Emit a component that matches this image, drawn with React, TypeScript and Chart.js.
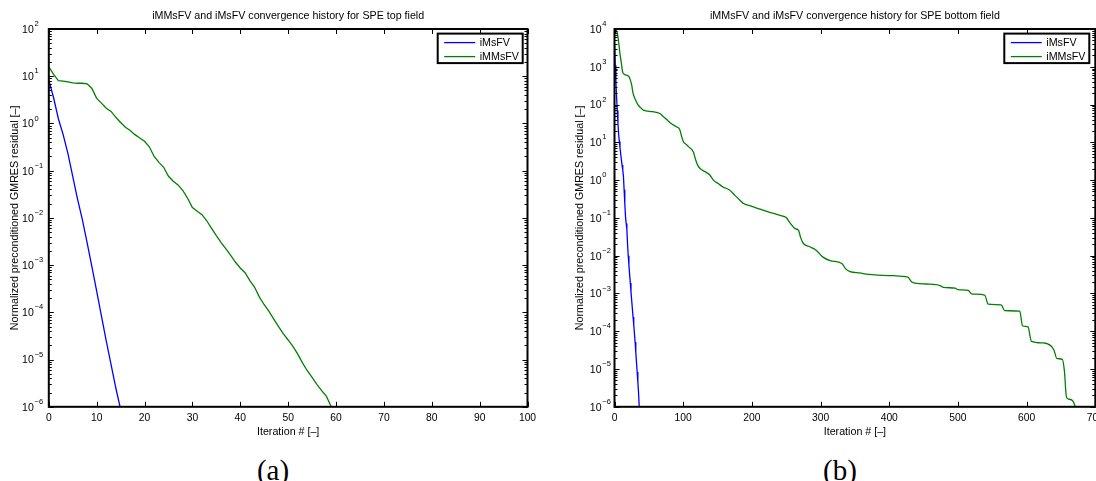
import React, { useEffect, useRef } from "react";
import { Chart, registerables } from "chart.js";

Chart.register(...registerables);

// ---------- SPE top field ----------
const topXTicks = [0, 10, 20, 30, 40, 50, 60, 70, 80, 90, 100];
// residual per GMRES iteration (iteration = index)
const topMsfvResidual = [
  8.3, 3.5, 1.26, 0.58, 0.23, 0.076, 0.025, 9.3e-3, 3.0e-3, 9.3e-4, 2.8e-4,
  8.3e-5, 2.5e-5, 7.9e-6, 2.5e-6, 8.9e-7,
];
const topMmsfvResidual = [
  15.8, 11.0, 8.1, 7.9, 7.6, 7.2, 7.1, 7.1, 6.9, 5.5, 3.4, 2.7, 2.1, 1.8, 1.35,
  1.05, 0.83, 0.71, 0.58, 0.49, 0.42, 0.32, 0.2, 0.15, 0.118, 0.076, 0.06, 0.05,
  0.038, 0.026, 0.0166, 0.0138, 0.0117, 8.7e-3, 6.0e-3, 4.2e-3, 3.0e-3, 2.2e-3,
  1.6e-3, 1.15e-3, 8.7e-4, 6.9e-4, 4.7e-4, 3.4e-4, 2.1e-4, 1.45e-4, 1.05e-4,
  7.2e-5, 5.0e-5, 3.5e-5, 2.6e-5, 1.9e-5, 1.3e-5, 8.5e-6, 5.8e-6, 4.2e-6, 3.0e-6,
  2.2e-6, 1.66e-6, 1.0e-6,
];

// ---------- SPE bottom field ----------
const bottomXTicks = [0, 100, 200, 300, 400, 500, 600, 700];
const bottomMsfvResidual = [
  4000, 1100, 400, 160, 70, 32, 16.6, 10.5, 7.2, 5.0, 3.5, 2.5, 1.86, 1.26, 0.56,
  0.24, 0.11, 0.071, 0.05, 0.02, 0.01, 5.6e-3, 3.2e-3, 1.9e-3, 1.1e-3, 6.6e-4,
  4.0e-4, 2.4e-4, 1.5e-4, 8.9e-5, 5.2e-5, 2.8e-5, 1.5e-5, 8.3e-6, 4.5e-6, 2.4e-6,
  1.0e-6,
];
// the iMMsFV history is stored at its break points (iteration, residual)
const bottomMmsfvIteration = [
  0, 3, 5, 8, 10, 12, 15, 21, 23, 25, 27, 30, 34, 38, 42, 55, 66, 70, 76, 83, 90,
  95, 97, 100, 104, 108, 115, 118, 121, 125, 132, 139, 144, 151, 158, 168, 175,
  183, 188, 197, 212, 226, 241, 250, 255, 263, 268, 271, 275, 285, 294, 303, 314,
  331, 337, 343, 357, 370, 406, 427, 433, 454, 474, 479, 496, 500, 515, 520, 539,
  544, 563, 568, 590, 594, 602, 607, 624, 636, 640, 644, 652, 655, 658, 661, 667,
  671,
];
const bottomMmsfvResidual = [
  10000, 9000, 6300, 2200, 1260, 710, 620, 550, 450, 330, 200, 140, 100, 83, 71,
  65, 58, 50, 40, 31, 26, 22, 16, 10.7, 8.9, 7.6, 5.5, 3.5, 2.5, 2.0, 1.66, 1.35,
  1.0, 0.81, 0.66, 0.54, 0.4, 0.29, 0.24, 0.21, 0.17, 0.14, 0.117, 0.102, 0.076,
  0.052, 0.047, 0.03, 0.021, 0.017, 0.0138, 9.3e-3, 7.4e-3, 6.2e-3, 4.4e-3,
  3.8e-3, 3.5e-3, 3.2e-3, 2.95e-3, 2.7e-3, 2.0e-3, 1.78e-3, 1.62e-3, 1.45e-3,
  1.38e-3, 1.26e-3, 1.2e-3, 9.8e-4, 9.1e-4, 5.2e-4, 5.0e-4, 3.5e-4, 3.4e-4,
  1.4e-4, 1.3e-4, 5.4e-5, 4.9e-5, 4.0e-5, 3.1e-5, 1.9e-5, 1.8e-5, 8.9e-6,
  1.8e-6, 1.6e-6, 1.45e-6, 1.0e-6,
];

const seriesNames = ["iMsFV", "iMMsFV"];
const seriesColors = ["#0000ff", "#008000"];

const xAxisTitle = "Iteration # [\u2013]";
const yAxisTitle = "Normalized preconditioned GMRES residual [\u2013]";

const SANS = '"Liberation Sans", Arial, Helvetica, sans-serif';
const font = (size: number) => `${size}px ${SANS}`;

type PanelSpec = {
  title: string;
  xMax: number;
  yMin: number;
  yMax: number;
  xTicks: number[];
  yLabelGap: number;
  legendInset: number;
};

const supDigits = (e: number) => (e < 0 ? "\u2212" + String(-e) : String(e));

// MATLAB-style box axes: inward ticks on all four sides, log minor ticks,
// tick labels, axis titles, title and a boxed legend in the upper right.
function matlabAxes(spec: PanelSpec) {
  return {
    id: "matlabAxes",
    afterDatasetsDraw(chart: any) {
      const { ctx, chartArea: a, scales } = chart;
      const xs = scales.x;
      const ys = scales.y;
      ctx.save();

      // ticks
      ctx.strokeStyle = "#000";
      ctx.lineWidth = 1;
      ctx.beginPath();
      for (const t of spec.xTicks) {
        const px = Math.round(xs.getPixelForValue(t)) + 0.5;
        ctx.moveTo(px, a.bottom);
        ctx.lineTo(px, a.bottom - 5);
        ctx.moveTo(px, a.top);
        ctx.lineTo(px, a.top + 5);
      }
      const minE = Math.round(Math.log10(spec.yMin));
      const maxE = Math.round(Math.log10(spec.yMax));
      for (let e = minE; e <= maxE; e++) {
        const py = Math.round(ys.getPixelForValue(Math.pow(10, e))) + 0.5;
        ctx.moveTo(a.left, py);
        ctx.lineTo(a.left + 5, py);
        ctx.moveTo(a.right, py);
        ctx.lineTo(a.right - 5, py);
        if (e < maxE) {
          for (let m = 2; m <= 9; m++) {
            const pm = Math.round(ys.getPixelForValue(m * Math.pow(10, e))) + 0.5;
            ctx.moveTo(a.left, pm);
            ctx.lineTo(a.left + 3, pm);
            ctx.moveTo(a.right, pm);
            ctx.lineTo(a.right - 3, pm);
          }
        }
      }
      ctx.stroke();

      // frame
      ctx.lineWidth = 2;
      ctx.strokeRect(a.left, a.top, a.right - a.left, a.bottom - a.top);

      ctx.fillStyle = "#000";

      // x tick labels
      ctx.font = font(10.3);
      ctx.textAlign = "center";
      ctx.textBaseline = "middle";
      for (const t of spec.xTicks) {
        ctx.fillText(String(t), xs.getPixelForValue(t), a.bottom + 11.5);
      }

      // y tick labels: 10 with a raised exponent
      for (let e = minE; e <= maxE; e++) {
        const py = ys.getPixelForValue(Math.pow(10, e));
        const xr = a.left - spec.yLabelGap;
        ctx.font = font(10.5);
        ctx.textAlign = "right";
        ctx.textBaseline = "middle";
        ctx.fillText("10", xr, py + 1);
        ctx.font = font(7.5);
        ctx.textAlign = "left";
        ctx.fillText(supDigits(e), xr + 0.8, py - 5);
      }

      // axis titles
      ctx.font = font(10.7);
      ctx.textAlign = "center";
      ctx.textBaseline = "middle";
      ctx.fillText(xAxisTitle, (a.left + a.right) / 2, a.bottom + 25);
      ctx.save();
      ctx.translate(a.left - 34, (a.top + a.bottom) / 2);
      ctx.rotate(-Math.PI / 2);
      ctx.fillText(yAxisTitle, 0, 0);
      ctx.restore();

      // title
      ctx.fillText(spec.title, (a.left + a.right) / 2, 15.7);

      // legend
      const bw = 85;
      const bh = 29.5;
      const bx = a.right - spec.legendInset - bw;
      const by = a.top + 4.6;
      ctx.fillStyle = "#fff";
      ctx.fillRect(bx, by, bw, bh);
      ctx.strokeStyle = "#000";
      ctx.lineWidth = 2;
      ctx.strokeRect(bx, by, bw, bh);
      chart.data.datasets.forEach((ds: any, i: number) => {
        const ly = by + 9 + i * 14;
        ctx.strokeStyle = ds.borderColor;
        ctx.lineWidth = 1.3;
        ctx.beginPath();
        ctx.moveTo(bx + 6.5, ly);
        ctx.lineTo(bx + 37.5, ly);
        ctx.stroke();
        ctx.fillStyle = "#000";
        ctx.font = font(10.7);
        ctx.textAlign = "left";
        ctx.textBaseline = "middle";
        ctx.fillText(ds.label, bx + 42, ly);
      });

      ctx.restore();
    },
  };
}

type PanelProps = {
  left: number;
  width: number;
  height: number;
  padding: { left: number; right: number; top: number; bottom: number };
  spec: PanelSpec;
  datasets: any[];
};

function ConvergencePanel({ left, width, height, padding, spec, datasets }: PanelProps) {
  const ref = useRef<HTMLCanvasElement>(null);
  useEffect(() => {
    if (!ref.current) return;
    const chart = new Chart(ref.current, {
      type: "line",
      data: { datasets },
      options: {
        responsive: false,
        animation: false,
        devicePixelRatio: 1,
        layout: { padding },
        parsing: false,
        scales: {
          x: { type: "linear", min: 0, max: spec.xMax, display: false },
          y: { type: "logarithmic", min: spec.yMin, max: spec.yMax, display: false },
        },
        elements: { point: { radius: 0 } },
        plugins: {
          legend: { display: false },
          title: { display: false },
          tooltip: { enabled: false },
        },
      },
      plugins: [matlabAxes(spec)],
    } as any);
    return () => chart.destroy();
  }, []);
  return (
    <canvas
      ref={ref}
      width={width}
      height={height}
      style={{ position: "absolute", left, top: 0, width, height }}
    />
  );
}

const perIteration = (values: number[]) => values.map((y, i) => ({ x: i, y }));

export default function App() {
  const topDatasets = [
    {
      label: seriesNames[0],
      data: perIteration(topMsfvResidual),
      borderColor: seriesColors[0],
      borderWidth: 1.3,
      tension: 0,
    },
    {
      label: seriesNames[1],
      data: perIteration(topMmsfvResidual),
      borderColor: seriesColors[1],
      borderWidth: 1.3,
      tension: 0,
    },
  ];
  const bottomDatasets = [
    {
      label: seriesNames[0],
      data: perIteration(bottomMsfvResidual),
      borderColor: seriesColors[0],
      borderWidth: 1.3,
      tension: 0,
    },
    {
      label: seriesNames[1],
      data: bottomMmsfvIteration.map((x, i) => ({ x, y: bottomMmsfvResidual[i] })),
      borderColor: seriesColors[1],
      borderWidth: 1.3,
      cubicInterpolationMode: "monotone",
    },
  ];

  const captionStyle: React.CSSProperties = {
    position: "absolute",
    top: 455.6,
    width: 100,
    textAlign: "center",
    fontFamily: '"Liberation Serif", "Times New Roman", serif',
    fontSize: 29,
    lineHeight: "29px",
    color: "#000",
  };

  return (
    <div
      style={{
        position: "fixed",
        left: 0,
        top: 0,
        width: 1096,
        height: 481,
        background: "#fff",
        overflow: "hidden",
      }}
    >
      <ConvergencePanel
        left={0}
        width={560}
        height={440}
        padding={{ left: 48.8, right: 32.5, top: 29, bottom: 33.2 }}
        spec={{
          title: "iMMsFV and iMsFV convergence history for SPE top field",
          xMax: 100,
          yMin: 1e-6,
          yMax: 1e2,
          xTicks: topXTicks,
          yLabelGap: 15,
          legendInset: 4.8,
        }}
        datasets={topDatasets}
      />
      <ConvergencePanel
        left={560}
        width={536}
        height={440}
        padding={{ left: 54.5, right: 0.7, top: 29, bottom: 33.2 }}
        spec={{
          title: "iMMsFV and iMsFV convergence history for SPE bottom field",
          xMax: 700,
          yMin: 1e-6,
          yMax: 1e4,
          xTicks: bottomXTicks,
          yLabelGap: 13,
          legendInset: 6,
        }}
        datasets={bottomDatasets}
      />
      <div style={{ ...captionStyle, left: 273 - 50 }}>(a)</div>
      <div style={{ ...captionStyle, left: 840 - 50 }}>(b)</div>
    </div>
  );
}
